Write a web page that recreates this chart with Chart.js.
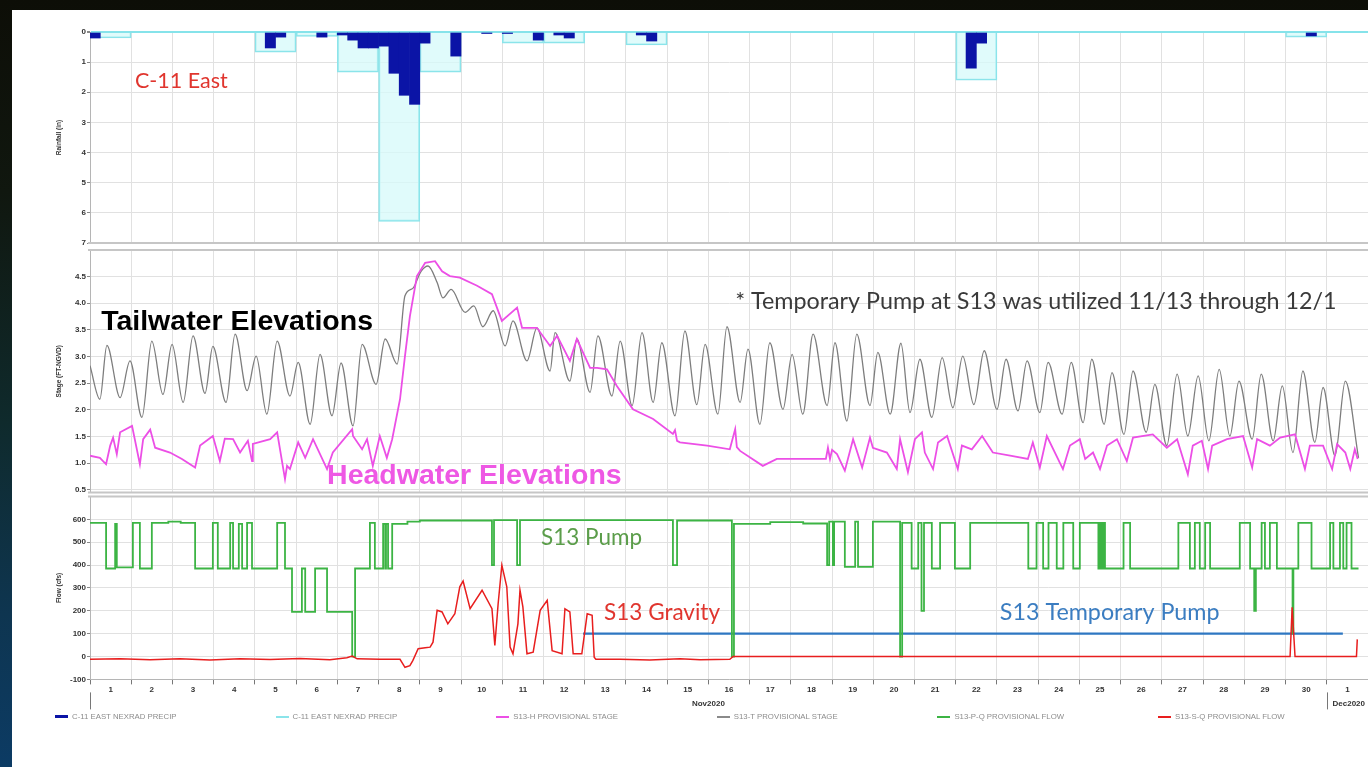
<!DOCTYPE html>
<html>
<head>
<meta charset="utf-8">
<title>S13 / C-11 East — November 2020</title>
<script src="https://cdn.jsdelivr.net/npm/chart.js@4.4.1/dist/chart.umd.min.js"></script>
<style>
  html, body { margin: 0; padding: 0; }
  body {
    width: 1368px; height: 767px; overflow: hidden; position: relative;
    background: linear-gradient(180deg, #0d0e07 0%, #10170f 25%, #0f2a2c 55%, #0e3550 80%, #0c3b64 100%);
  }
  #sheet { position: absolute; left: 12px; top: 10px; right: 0; bottom: 0; background: #fff; }
  .pane { position: absolute; left: 0; }
  #legend {
    position: absolute; left: 55px; top: 712px; display: flex;
    font: 7.8px "Liberation Sans", Arial, sans-serif; color: #8c8c8c;
  }
  .item { width: 220.6px; display: flex; align-items: center; white-space: nowrap; }
  .sw { width: 13px; height: 2px; margin-right: 4px; }
</style>
</head>
<body>
<div id="sheet"></div>
<canvas id="rain" class="pane" width="1368" height="250" style="top:0px"></canvas>
<canvas id="stage" class="pane" width="1368" height="256" style="top:244px"></canvas>
<canvas id="flow" class="pane" width="1368" height="277" style="top:490px"></canvas>
<div id="legend"></div>

<script>
// ---- time axis: days since 1 Nov 2020 00:00 ----
const dayTicks  = [0,1,2,3,4,5,6,7,8,9,10,11,12,13,14,15,16,17,18,19,20,21,22,23,24,25,26,27,28,29,30,31];
const dayLabels = ['1','2','3','4','5','6','7','8','9','10','11','12','13','14','15','16','17','18','19','20',
                   '21','22','23','24','25','26','27','28','29','30','1',''];
const monthNames  = ['Nov2020', 'Dec2020'];
const monthStarts = [0, 30];

// ---- value axes ----
const rainTicks        = [0,1,2,3,4,5,6,7];
const rainTickLabels   = ['0','1','2','3','4','5','6','7'];
const stageTicks       = [0.5,1.0,1.5,2.0,2.5,3.0,3.5,4.0,4.5];
const stageTickLabels  = ['0.5','1.0','1.5','2.0','2.5','3.0','3.5','4.0','4.5'];
const flowTicks        = [-100,0,100,200,300,400,500,600];
const flowTickLabels   = ['-100','0','100','200','300','400','500','600'];

// ---- C-11 East NEXRAD rainfall (inches) ----
// daily totals: [day start, inches]
const rainDaily = [[0,0.2],[4,0.67],[5,0.15],[6,1.33],[7,6.28],[8,1.33],[10,0.37],[11,0.37],[13,0.43],[21,1.6],[29,0.17]];
// 6-hour totals: [bin start, inches]
const rainFine = [[0,0.2],[4.25,0.53],[4.5,0.17],[5.5,0.17],[6,0.1],[6.25,0.27],[6.5,0.53],[6.75,0.53],
                  [7,0.47],[7.25,1.37],[7.5,2.1],[7.75,2.4],[8,0.37],[8.75,0.8],[9.5,0.05],[10,0.05],
                  [10.75,0.27],[11.25,0.1],[11.5,0.2],[13.25,0.1],[13.5,0.3],[21.25,1.2],[21.5,0.37],[29.5,0.13]];

// ---- S13 stages (ft NGVD): [day, stage] ----
const tailwater = [[0,2.83],[0.24,2.2],[0.41,3.21],[0.73,2.23],[0.97,2.92],[1.26,1.86],[1.5,3.29],[1.77,2.29],[1.99,3.23],[2.26,2.14],
  [2.5,3.39],[2.79,2.31],[2.98,3.19],[3.3,2.14],[3.52,3.42],[3.81,2.36],[4.03,3.01],[4.29,1.92],[4.54,3.29],[4.85,2.26],
  [5.05,2.89],[5.34,1.73],[5.58,3.04],[5.87,1.89],[6.09,2.88],[6.38,1.7],[6.6,3.23],[6.94,2.48],[7.16,3.33],[7.45,2.86],
  [7.64,4.14],[7.83,4.28],[8.03,4.6],[8.2,4.7],[8.42,4.39],[8.56,4.1],[8.76,4.26],[9.1,3.83],[9.31,3.95],[9.53,3.56],
  [9.78,3.86],[10.07,3.2],[10.26,3.67],[10.6,2.92],[10.84,3.54],[11.16,2.73],[11.28,3.45],[11.64,2.54],[11.81,3.33],[12.13,2.33],
  [12.32,3.39],[12.66,2.26],[12.86,3.29],[13.15,2.08],[13.39,3.45],[13.66,2.14],[13.87,3.26],[14.19,1.89],[14.43,3.48],[14.72,2.1],
  [14.92,3.23],[15.23,1.92],[15.45,3.56],[15.77,2.14],[15.96,3.14],[16.25,1.73],[16.49,3.26],[16.81,2.01],[17.03,3.04],[17.29,1.92],
  [17.54,3.42],[17.88,2.08],[18.07,3.26],[18.36,1.79],[18.6,3.42],[18.92,2.08],[19.11,3.08],[19.41,1.92],[19.67,3.25],[19.89,1.95],
  [20.13,2.95],[20.42,1.86],[20.67,2.98],[20.93,2.04],[21.17,3.01],[21.44,2.1],[21.69,3.11],[22.0,2.01],[22.22,2.95],[22.51,1.98],
  [22.73,2.92],[23.04,1.95],[23.24,2.89],[23.58,1.92],[23.8,2.89],[24.09,1.76],[24.3,2.95],[24.6,1.73],[24.79,2.7],[25.08,1.54],
  [25.3,2.73],[25.62,1.58],[25.83,2.48],[26.12,1.33],[26.37,2.67],[26.63,1.51],[26.88,2.64],[27.14,1.42],[27.39,2.76],[27.65,1.51],
  [27.87,2.54],[28.19,1.45],[28.41,2.67],[28.7,1.42],[28.92,2.45],[29.18,1.2],[29.42,2.73],[29.71,1.39],[29.91,2.42],[30.2,1.14],
  [30.45,2.54],[30.77,1.1]];

const headwater = [[0,1.14],[0.24,1.1],[0.39,0.98],[0.49,1.33],[0.56,1.48],[0.65,1.17],[0.73,1.58],[1.02,1.7],[1.21,0.98],[1.29,1.45],
  [1.46,1.63],[1.58,1.29],[1.94,1.2],[2.23,1.08],[2.55,0.92],[2.67,1.33],[2.98,1.51],[3.15,1.04],[3.27,1.46],[3.47,1.45],
  [3.64,1.2],[3.83,1.42],[3.93,1.04],[3.95,1.36],[4.37,1.45],[4.54,1.58],[4.73,0.7],[4.78,0.95],[4.85,0.89],[5.05,1.39],
  [5.22,1.1],[5.41,1.45],[5.75,0.89],[5.89,1.2],[6.36,1.64],[6.38,1.51],[6.6,1.26],[6.72,1.45],[6.86,0.95],[7.03,1.51],
  [7.2,1.1],[7.33,1.45],[7.52,2.2],[7.64,3.01],[7.76,3.76],[7.93,4.51],[8.13,4.76],[8.37,4.79],[8.54,4.6],[8.73,4.51],
  [8.97,4.48],[9.39,4.33],[9.75,4.17],[9.99,3.67],[10.36,3.92],[10.48,3.54],[10.84,3.54],[11.16,3.2],[11.33,3.39],[11.64,2.92],
  [11.81,3.33],[12.13,2.79],[12.3,2.79],[12.54,2.76],[12.78,2.45],[13.17,2.01],[13.66,1.83],[14.14,1.55],[14.19,1.62],[14.24,1.42],
  [14.31,1.39],[14.97,1.33],[15.52,1.26],[15.65,1.64],[15.69,1.3],[15.77,1.23],[16.32,0.95],[16.66,1.08],[17.39,1.08],[17.85,1.08],
  [17.9,1.29],[17.95,1.08],[18.0,1.25],[18.12,1.17],[18.31,0.86],[18.51,1.45],[18.73,0.92],[18.92,1.48],[18.99,1.29],[19.33,1.2],
  [19.57,0.89],[19.65,1.45],[19.84,0.83],[20.01,1.45],[20.18,1.58],[20.25,1.2],[20.45,0.89],[20.57,1.39],[20.79,1.51],[21.05,0.89],
  [21.15,1.33],[21.39,1.26],[21.64,1.51],[21.9,1.2],[22.32,1.14],[22.75,1.08],[22.87,1.39],[23.04,0.92],[23.21,1.51],[23.6,0.89],
  [23.77,1.33],[24.01,1.45],[24.14,1.08],[24.33,1.2],[24.5,0.89],[24.67,1.33],[24.91,1.45],[25.15,1.04],[25.3,1.48],[25.78,1.54],
  [26.12,1.29],[26.37,1.45],[26.63,0.79],[26.75,1.33],[26.97,1.42],[27.12,0.89],[27.22,1.33],[27.58,1.45],[27.97,1.51],[28.19,0.92],
  [28.31,1.45],[28.62,1.33],[28.87,1.48],[29.23,1.54],[29.47,0.89],[29.59,1.33],[29.91,1.33],[30.13,0.89],[30.25,1.36],[30.45,1.2],
  [30.57,0.89],[30.68,1.26],[30.75,1.08]];

// ---- S13 flows (cfs): [day, cfs] ----
// pump station, held until the next reading
const pumpFlow = [[0,585],[0.39,385],[0.61,580],[0.65,390],[1.04,585],[1.21,385],[1.5,585],[1.9,590],[2.2,585],[2.55,385],
  [2.98,585],[3.1,385],[3.4,585],[3.47,385],[3.61,580],[3.69,385],[3.81,585],[3.93,385],[4.54,585],[4.73,385],
  [4.9,195],[5.14,385],[5.22,195],[5.46,385],[5.75,195],[6.36,0],[6.43,385],[6.79,585],[6.91,385],[7.11,580],
  [7.16,385],[7.18,580],[7.23,385],[7.33,580],[7.7,590],[8.0,595],[9.75,400],[9.8,597],[10.36,400],[10.43,597],
  [14.14,400],[14.24,595],[15.57,0],[15.62,580],[16.5,588],[17.3,582],[17.88,400],[17.93,590],[18.02,400],[18.05,590],
  [18.31,392],[18.56,590],[18.63,392],[18.99,590],[19.65,0],[19.7,585],[19.93,385],[20.09,585],[20.17,200],[20.23,585],
  [20.42,385],[20.62,585],[20.98,385],[21.35,585],[22.76,385],[22.96,585],[23.12,385],[23.25,585],[23.45,385],[23.61,585],
  [23.85,385],[24.01,585],[24.46,385],[24.5,585],[24.54,385],[24.58,585],[24.62,385],[25.07,585],[25.23,385],[26.4,585],
  [26.68,385],[26.8,585],[26.92,385],[27.05,585],[27.17,385],[27.89,585],[28.14,385],[28.24,200],[28.28,385],[28.42,585],
  [28.5,385],[28.62,585],[28.79,385],[29.17,100],[29.19,385],[29.31,585],[29.63,385],[30.08,585],[30.16,385],[30.32,585],
  [30.4,385],[30.48,585],[30.6,385],[30.77,385]];

const gravityFlow = [[0,-12],[0.73,-10],[1.46,-14],[2.18,-10],[2.91,-15],[3.64,-10],[4.37,-13],[5.09,-9],[5.82,-14],[6.23,-5],
  [6.36,2],[6.48,-10],[7.03,-12],[7.52,-12],[7.64,-47],[7.76,-40],[7.83,-18],[7.96,34],[8.13,38],[8.25,41],
  [8.32,63],[8.42,202],[8.54,195],[8.68,143],[8.85,187],[8.97,305],[9.05,330],[9.22,209],[9.51,290],[9.75,209],
  [9.82,48],[9.9,231],[9.99,400],[10.11,305],[10.19,41],[10.26,12],[10.38,143],[10.43,290],[10.5,217],[10.6,12],
  [10.75,19],[10.92,202],[11.09,246],[11.21,26],[11.45,12],[11.52,209],[11.64,195],[11.72,12],[11.93,12],[12.06,187],
  [12.18,180],[12.23,-3],[12.27,-12],[12.86,-12],[13.58,-15],[14.31,-10],[14.8,-14],[15.52,-12],[15.6,0],[29.11,0],
  [29.16,215],[29.23,0],[30.72,0],[30.74,75]];

const tempPumpFlow = [[11.96,100],[30.39,100]];

// ---- legend ----
const legendLabels = ['C-11 EAST NEXRAD PRECIP','C-11 EAST NEXRAD PRECIP','S13-H PROVISIONAL STAGE',
                      'S13-T PROVISIONAL STAGE','S13-P-Q PROVISIONAL FLOW','S13-S-Q PROVISIONAL FLOW'];
const legendColors = ['#0b14a6','#8be4ea','#ec4fe6','#8a8a8a','#3cb444','#e81e1e'];

// ---------------------------------------------------------------
const SANS = '"Liberation Sans", Arial, sans-serif';
const AX_FONT = { family: SANS, size: 8, weight: 'bold' };
const toXY = (arr, shift = 0) => arr.map(([t, v]) => ({ x: t + shift, y: v }));

function xAxis(showLabels) {
  return {
    type: 'linear', min: 0, max: 31, offset: false,
    afterBuildTicks: s => { s.ticks = dayTicks.map(v => ({ value: v })); },
    afterFit: s => { s.height = showLabels ? 20 : 0; s.paddingLeft = 0; s.paddingRight = 0; },
    ticks: showLabels
      ? { display: true, autoSkip: false, maxRotation: 0, padding: 1, labelOffset: 20.6,
          color: '#333', font: AX_FONT, callback: (v, i) => dayLabels[i] }
      : { display: false },
    grid: { offset: false, color: '#e1e1e1', lineWidth: 1, drawTicks: showLabels, tickLength: 5, tickColor: '#777' },
    border: { display: showLabels, color: '#b5b5b5' }
  };
}

function yAxis(min, max, ticks, labels, title, reverse, gridColor) {
  return {
    type: 'linear', min, max, reverse: !!reverse,
    afterBuildTicks: s => { s.ticks = ticks.map(v => ({ value: v })); },
    afterFit: s => { s.width = 39; },
    ticks: { autoSkip: false, padding: 1, color: '#333', font: AX_FONT, callback: (v, i) => labels[i] },
    grid: { color: gridColor || '#e1e1e1', lineWidth: c => (gridColor && c.tick && c.tick.value === 0) ? 2 : 1,
            tickLength: 3, tickColor: '#888' },
    border: { color: '#b5b5b5' },
    title: { display: true, text: title, color: '#333', font: { family: SANS, size: 6.5, weight: 'bold' },
             padding: { top: 4, bottom: 0 } }
  };
}

// horizontal separators above / below a panel
function frame(top, bottom) {
  return {
    id: 'frame',
    afterDraw(chart) {
      const { ctx, chartArea: a } = chart;
      ctx.save();
      ctx.strokeStyle = '#c6c6c6';
      ctx.lineWidth = 2;
      ctx.beginPath();
      if (top)    { ctx.moveTo(a.left - 2, a.top);    ctx.lineTo(a.right, a.top); }
      if (bottom) { ctx.moveTo(a.left - 2, a.bottom); ctx.lineTo(a.right, a.bottom); }
      ctx.stroke();
      ctx.restore();
    }
  };
}

// text notes placed in data coordinates
function notes(items) {
  return {
    id: 'notes',
    afterDatasetsDraw(chart) {
      const { ctx, scales: { x, y } } = chart;
      ctx.save();
      ctx.textAlign = 'left';
      ctx.textBaseline = 'middle';
      items.forEach(n => {
        ctx.font = n.font;
        ctx.fillStyle = n.color;
        ctx.fillText(n.text, x.getPixelForValue(n.x), y.getPixelForValue(n.y));
      });
      ctx.restore();
    }
  };
}

// month captions under the day labels
const months = {
  id: 'months',
  afterDraw(chart) {
    const { ctx, scales: { x }, chartArea: a } = chart;
    ctx.save();
    ctx.strokeStyle = '#777';
    ctx.lineWidth = 1;
    ctx.fillStyle = '#333';
    ctx.font = 'bold 8px ' + SANS;
    ctx.textBaseline = 'middle';
    monthNames.forEach((name, i) => {
      const px = Math.round(x.getPixelForValue(monthStarts[i])) + 0.5;
      ctx.beginPath();
      ctx.moveTo(px, a.bottom + 13);
      ctx.lineTo(px, a.bottom + 30);
      ctx.stroke();
      const end = monthStarts[i + 1];
      if (end !== undefined && end <= x.max) {
        ctx.textAlign = 'center';
        ctx.fillText(name, x.getPixelForValue((monthStarts[i] + end) / 2), a.bottom + 24);
      } else {
        ctx.textAlign = 'left';
        ctx.fillText(name, px + 5, a.bottom + 24);
      }
    });
    ctx.restore();
  }
};

const common = {
  responsive: false, animation: false, events: [],
  plugins: { legend: { display: false }, tooltip: { enabled: false } }
};
const NOTE_FONT = '22.5px Lato, "Open Sans", sans-serif';
const WIDE_FONT = '23.3px Lato, "Open Sans", sans-serif';
const TITLE_FONT = '21.5px Lato, "Open Sans", sans-serif';
const BIG_FONT = 'bold 28.5px ' + SANS;

// ---- rainfall panel ----
new Chart(document.getElementById('rain'), {
  type: 'bar',
  data: {
    datasets: [
      { label: legendLabels[0], data: toXY(rainFine, 0.125), xAxisID: 'x2',
        backgroundColor: '#0b14a6', borderWidth: 0, barPercentage: 1, categoryPercentage: 1, grouped: false },
      { label: legendLabels[1], data: toXY(rainDaily, 0.5), xAxisID: 'x',
        backgroundColor: 'rgba(214,250,250,0.75)', borderColor: '#8be4ea', borderWidth: 1.5,
        barPercentage: 1, categoryPercentage: 1, grouped: false }
    ]
  },
  options: {
    ...common,
    layout: { padding: { left: 51, right: 0, top: 32, bottom: 7 } },
    scales: {
      x: xAxis(false),
      x2: { ...xAxis(false), display: false },
      y: yAxis(0, 7, rainTicks, rainTickLabels, 'Rainfall (in)', true,
               c => (c.tick && c.tick.value === 0) ? '#86e3ea' : '#e1e1e1')
    }
  },
  plugins: [frame(false, true), notes([
    { text: 'C-11 East', x: 1.09, y: 1.62, font: TITLE_FONT, color: '#e0352e' }
  ])]
});

// ---- stage panel ----
new Chart(document.getElementById('stage'), {
  type: 'line',
  data: {
    datasets: [
      { label: legendLabels[2], data: toXY(headwater), borderColor: '#ec4fe6', borderWidth: 1.8,
        pointRadius: 0, tension: 0 },
      { label: legendLabels[3], data: toXY(tailwater), borderColor: '#7d7d7d', borderWidth: 1.3,
        pointRadius: 0, cubicInterpolationMode: 'monotone' }
    ]
  },
  options: {
    ...common,
    layout: { padding: { left: 51, right: 0, top: 6, bottom: 7.5 } },
    scales: {
      x: xAxis(false),
      y: yAxis(0.45, 5.0, stageTicks, stageTickLabels, 'Stage (FT-NGVD)')
    }
  },
  plugins: [frame(true, true), notes([
    { text: 'Tailwater Elevations', x: 0.27, y: 3.645, font: BIG_FONT, color: '#000' },
    { text: 'Headwater Elevations', x: 5.75, y: 0.756, font: BIG_FONT, color: '#ee58e4' },
    { text: '* Temporary Pump at S13 was utilized 11/13 through 12/1', x: 15.65, y: 4.04, font: WIDE_FONT, color: '#3a3a3a' }
  ])]
});

// ---- flow panel ----
new Chart(document.getElementById('flow'), {
  type: 'line',
  data: {
    datasets: [
      { label: legendLabels[5], data: toXY(gravityFlow), borderColor: '#e81e1e', borderWidth: 1.5,
        pointRadius: 0, tension: 0 },
      { label: legendLabels[4], data: toXY(pumpFlow), borderColor: '#3cb444', borderWidth: 1.8,
        pointRadius: 0, stepped: true },
      { label: 'S13 Temporary Pump', data: toXY(tempPumpFlow), borderColor: '#2e77c2', borderWidth: 2.2,
        pointRadius: 0 }
    ]
  },
  options: {
    ...common,
    layout: { padding: { left: 51, right: 0, top: 6.5, bottom: 67.6 } },
    scales: {
      x: xAxis(true),
      y: yAxis(-100, 700, flowTicks, flowTickLabels, 'Flow (cfs)')
    }
  },
  plugins: [frame(true, false), months, notes([
    { text: 'S13 Pump', x: 10.94, y: 520, font: NOTE_FONT, color: '#5b9d4a' },
    { text: 'S13 Gravity', x: 12.47, y: 192, font: NOTE_FONT, color: '#e0352e' },
    { text: 'S13 Temporary Pump', x: 22.07, y: 192, font: WIDE_FONT, color: '#3b7dc1' }
  ])]
});

// ---- legend row ----
const legend = document.getElementById('legend');
legendLabels.forEach((txt, i) => {
  const item = document.createElement('div');
  item.className = 'item';
  const sw = document.createElement('span');
  sw.className = 'sw';
  sw.style.background = legendColors[i];
  if (i === 0) sw.style.height = '3px';
  item.appendChild(sw);
  item.appendChild(document.createTextNode(txt));
  legend.appendChild(item);
});
</script>
</body>
</html>
